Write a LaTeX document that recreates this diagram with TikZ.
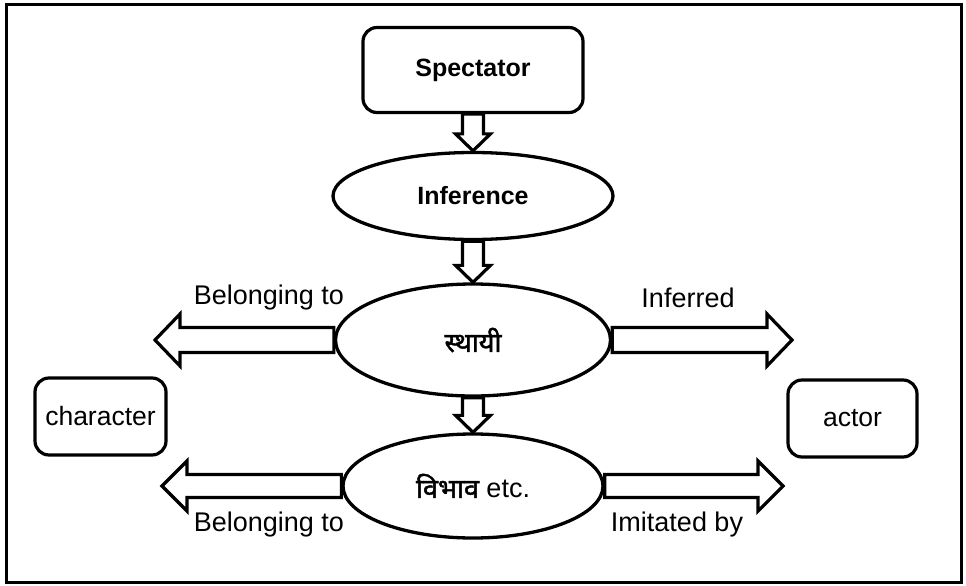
\documentclass[tikz,border=0pt]{standalone}
\usepackage{fontspec}
\setmainfont{Liberation Sans}
\newfontfamily\devfont[Script=Devanagari,FakeBold=1.6]{Noto Sans}
\usetikzlibrary{shapes.geometric,calc}

\tikzset{
  box/.style={draw, line width=3.2pt, rounded corners=14pt, font=\fontsize{26.5}{30}\selectfont},
  oval/.style={draw, ellipse, line width=3.3pt, inner sep=0pt},
  tag/.style={font=\fontsize{27}{30}\selectfont},
  arrowline/.style={line width=3.2pt, fill=white, line join=miter},
}

% hollow block arrow: shaft half width, head half width, head length, from, to
\newcommand{\fatarrow}[5]{%
  \draw[arrowline] let \p1=#4, \p2=#5, \n1={atan2(\y2-\y1,\x2-\x1)}, \n2={veclen(\x2-\x1,\y2-\y1)} in
    [shift={(\p1)}, rotate=\n1]
    (0,-#1) -- (\n2-#3,-#1) -- (\n2-#3,-#2) -- (\n2,0) -- (\n2-#3,#2) -- (\n2-#3,#1) -- (0,#1) -- cycle;}

\begin{document}
\begin{tikzpicture}[x=1pt,y=-1pt]
        \useasboundingbox (0,0) rectangle (966,586);
        \draw[line width=3pt] (6,5) rectangle (961,582);

        \node[box, font=\bfseries\fontsize{25}{28}\selectfont, minimum width=220pt, minimum height=85pt] (spec) at (473,70) {Spectator};
        \node[oval, font=\bfseries\fontsize{25}{28}\selectfont, minimum width=280pt, minimum height=87pt] (inf) at (473,196) {Inference};
        \node[oval, font=\devfont\fontsize{27}{30}\selectfont, minimum width=275pt, minimum height=112pt] (sth) at (473,340) {स्थायी};
        \node[oval, font=\fontsize{27}{30}\selectfont, minimum width=260pt, minimum height=104pt] (vib) at (473,486) {{\devfont\fontsize{27}{30}\selectfont विभाव} etc.};

        \node[box, minimum width=131pt, minimum height=77pt, inner xsep=2pt] (chr) at (100.5,416.5) {character};
        \node[box, minimum width=129pt, minimum height=77pt] (act) at (852.5,418.5) {actor};

        \coordinate (lt1) at (155,340);
        \coordinate (rt1) at (792,340);
        \coordinate (lt2) at (162,486);
        \coordinate (rt2) at (783,486);

        \fatarrow{10.5}{17.5}{17}{(spec.south)}{(inf.north)}
        \fatarrow{10.5}{17.5}{17}{(inf.south)}{(sth.north)}
        \fatarrow{10.5}{17.5}{17}{(sth.south)}{(vib.north)}
        \fatarrow{12.5}{26}{25}{(sth.west)}{(lt1)}
        \fatarrow{12.5}{26}{25}{(sth.east)}{(rt1)}
        \fatarrow{11.5}{25}{25}{(vib.west)}{(lt2)}
        \fatarrow{11.5}{25}{25}{(vib.east)}{(rt2)}

        \node[tag] (bel1) at (269,298) {Belonging to};
        \node[tag] (inr) at (688,298) {Inferred};
        \node[tag] (bel2) at (269,525) {Belonging to};
        \node[tag] (imi) at (677,525) {Imitated by};
    \end{tikzpicture}
\end{document}
